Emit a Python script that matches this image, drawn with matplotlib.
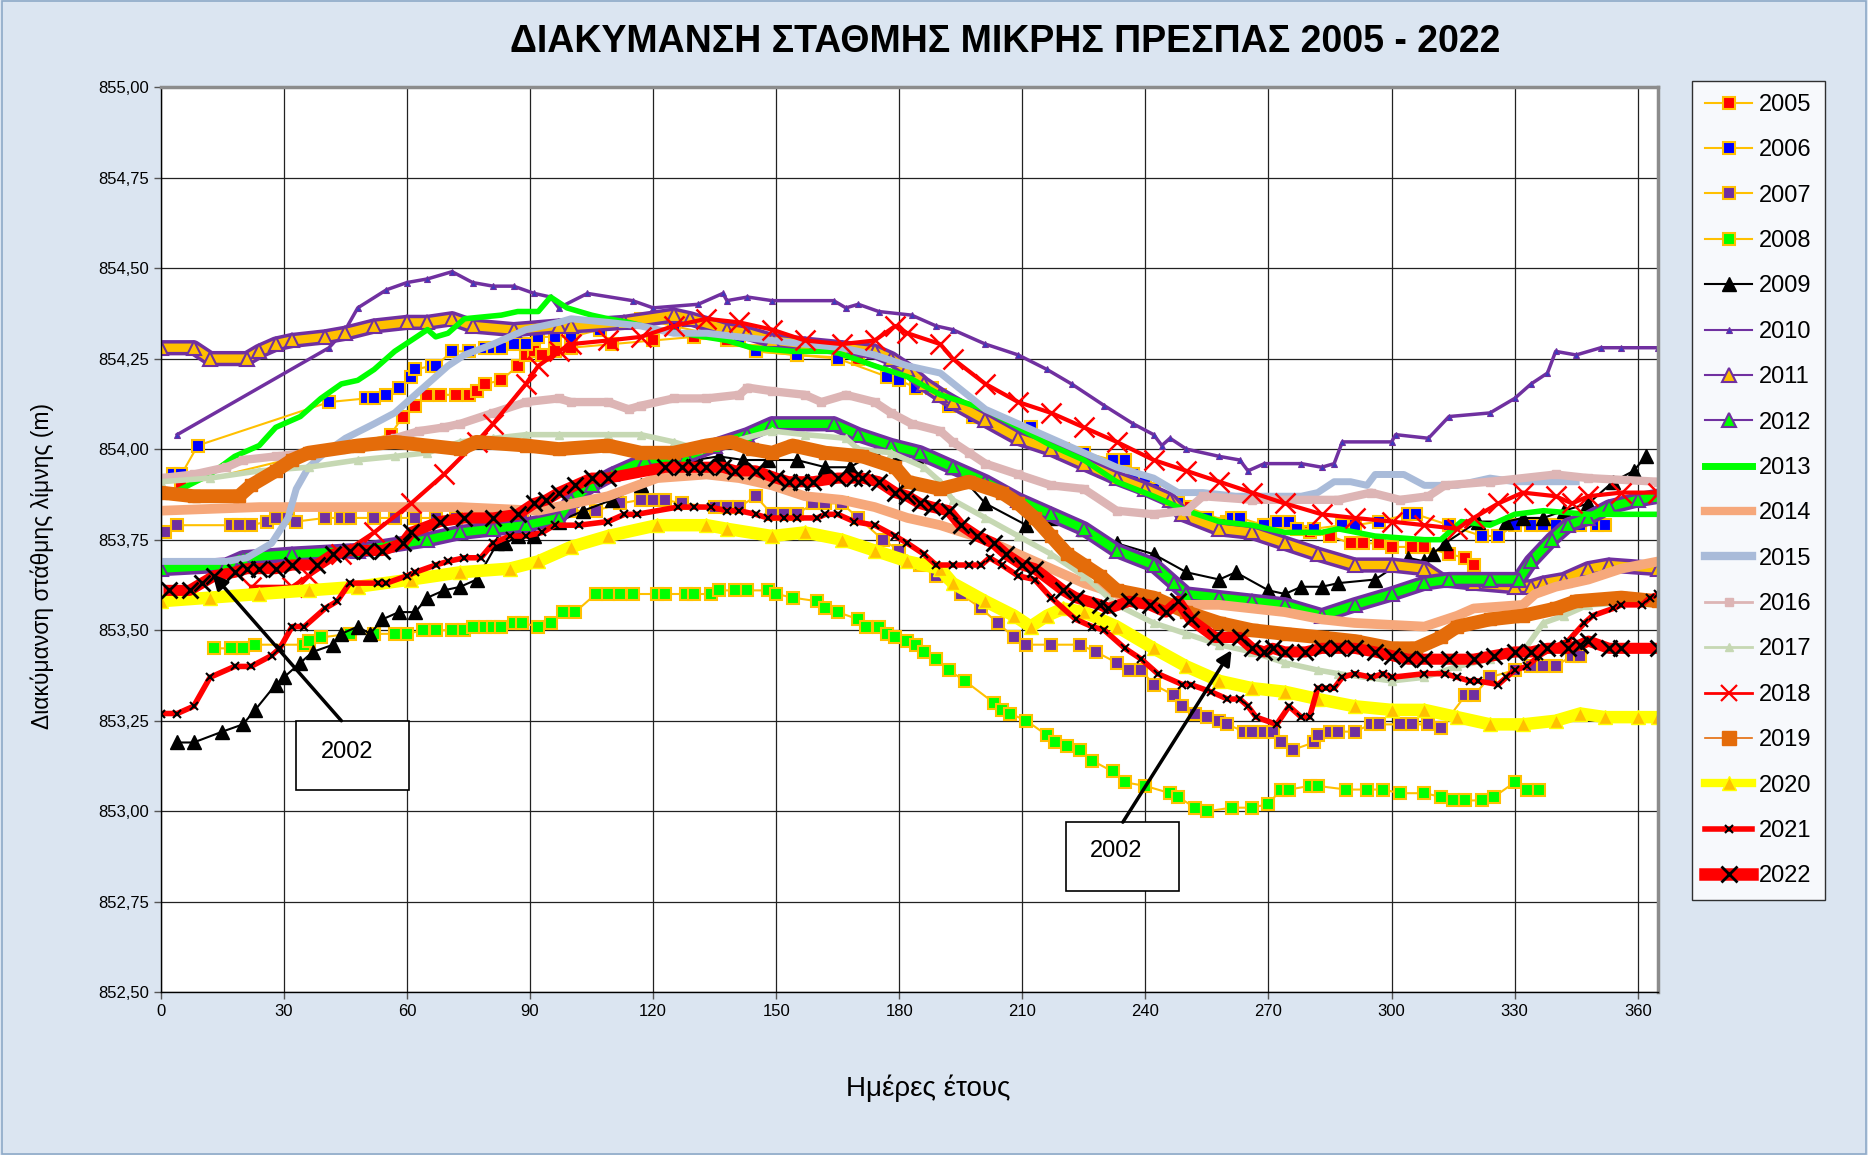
"""Lake level (Mikri Prespa) fluctuation 2005-2022, one line per year."""
import matplotlib
matplotlib.use("Agg")
import matplotlib.pyplot as plt
from matplotlib.lines import Line2D
from matplotlib.patches import Rectangle

plt.rcParams["font.family"] = ["Liberation Sans", "DejaVu Sans"]

# --- data: (day of year, level in m) ---
y2005 = [(5, 853.90), (56, 854.04), (59, 854.09), (62, 854.12), (65, 854.15), (68, 854.15), (72, 854.15),
         (75, 854.15), (77, 854.16), (79, 854.18), (83, 854.19), (87, 854.23), (89, 854.26), (91, 854.27),
         (93, 854.26), (96, 854.27), (100, 854.28), (110, 854.29), (120, 854.30), (130, 854.31), (138, 854.30),
         (145, 854.27), (155, 854.26), (170, 854.25), (180, 854.21), (190, 854.15), (200, 854.09), (210, 854.04),
         (220, 853.99), (230, 853.94), (240, 853.89), (250, 853.84), (260, 853.80), (270, 853.79), (280, 853.77),
         (285, 853.76), (290, 853.74), (293, 853.74), (297, 853.74), (300, 853.73), (305, 853.73), (308, 853.73),
         (314, 853.71), (318, 853.70), (320, 853.68)]
y2006 = [(3, 853.93), (5, 853.93), (9, 854.01), (41, 854.13), (50, 854.14), (52, 854.14), (55, 854.15),
         (58, 854.17), (61, 854.20), (62, 854.22), (66, 854.23), (67, 854.23), (71, 854.27), (75, 854.27),
         (79, 854.28), (81, 854.28), (83, 854.28), (86, 854.29), (89, 854.29), (92, 854.31), (96, 854.31),
         (100, 854.31), (107, 854.33), (114, 854.35), (117, 854.36), (125, 854.34), (133, 854.32), (141, 854.30),
         (145, 854.27), (155, 854.26), (165, 854.25), (177, 854.20), (180, 854.19), (184, 854.17), (188, 854.17),
         (192, 854.12), (198, 854.09), (205, 854.06), (209, 854.05), (212, 854.06), (220, 854.00), (225, 853.99),
         (232, 853.97), (235, 853.97), (237, 853.93), (240, 853.91), (242, 853.89), (248, 853.85), (255, 853.81),
         (261, 853.81), (263, 853.81), (269, 853.79), (272, 853.80), (275, 853.80), (277, 853.78), (281, 853.78),
         (288, 853.79), (291, 853.79), (297, 853.80), (304, 853.82), (306, 853.82), (314, 853.79), (322, 853.76),
         (326, 853.76), (330, 853.79), (334, 853.79), (337, 853.79), (340, 853.79), (346, 853.79), (350, 853.79),
         (352, 853.79)]
y2007 = [(1, 853.77), (4, 853.79), (17, 853.79), (19, 853.79), (22, 853.79), (26, 853.80), (28, 853.81),
         (31, 853.81), (33, 853.80), (40, 853.81), (44, 853.81), (46, 853.81), (52, 853.81), (57, 853.81),
         (62, 853.81), (67, 853.81), (72, 853.81), (77, 853.81), (82, 853.82), (88, 853.82), (94, 853.83),
         (100, 853.83), (106, 853.83), (112, 853.85), (117, 853.86), (120, 853.86), (123, 853.86), (127, 853.85),
         (135, 853.84), (138, 853.84), (141, 853.84), (145, 853.87), (149, 853.82), (152, 853.82), (155, 853.82),
         (159, 853.85), (162, 853.85), (166, 853.85), (170, 853.81), (176, 853.75), (180, 853.72), (185, 853.68),
         (189, 853.65), (195, 853.60), (200, 853.56), (204, 853.52), (208, 853.48), (211, 853.46), (217, 853.46),
         (224, 853.46), (228, 853.44), (233, 853.41), (236, 853.39), (239, 853.39), (242, 853.35), (247, 853.32),
         (249, 853.29), (252, 853.27), (255, 853.26), (258, 853.25), (260, 853.24), (264, 853.22), (266, 853.22),
         (269, 853.22), (271, 853.22), (273, 853.19), (276, 853.17), (281, 853.19), (282, 853.21), (285, 853.22),
         (287, 853.22), (291, 853.22), (295, 853.24), (297, 853.24), (302, 853.24), (305, 853.24), (309, 853.24),
         (312, 853.23), (318, 853.32), (320, 853.32), (324, 853.37), (330, 853.39), (334, 853.40), (337, 853.40),
         (340, 853.40), (344, 853.43), (346, 853.43)]
y2008 = [(13, 853.45), (17, 853.45), (20, 853.45), (23, 853.46), (35, 853.46), (36, 853.47), (39, 853.48),
         (46, 853.49), (52, 853.49), (57, 853.49), (60, 853.49), (64, 853.50), (67, 853.50), (71, 853.50),
         (74, 853.50), (76, 853.51), (79, 853.51), (81, 853.51), (83, 853.51), (86, 853.52), (88, 853.52),
         (92, 853.51), (95, 853.52), (98, 853.55), (101, 853.55), (106, 853.60), (109, 853.60), (112, 853.60),
         (115, 853.60), (121, 853.60), (123, 853.60), (128, 853.60), (130, 853.60), (134, 853.60), (136, 853.61),
         (140, 853.61), (143, 853.61), (148, 853.61), (150, 853.60), (154, 853.59), (160, 853.58), (162, 853.56),
         (165, 853.55), (170, 853.53), (172, 853.51), (175, 853.51), (177, 853.49), (179, 853.48), (182, 853.47),
         (184, 853.46), (186, 853.44), (189, 853.42), (192, 853.39), (196, 853.36), (203, 853.30), (205, 853.28),
         (207, 853.27), (211, 853.25), (216, 853.21), (218, 853.19), (221, 853.18), (224, 853.17), (227, 853.14),
         (232, 853.11), (235, 853.08), (240, 853.07), (246, 853.05), (248, 853.04), (252, 853.01), (255, 853.00),
         (261, 853.01), (266, 853.01), (270, 853.02), (273, 853.06), (275, 853.06), (280, 853.07), (282, 853.07),
         (289, 853.06), (294, 853.06), (298, 853.06), (302, 853.05), (308, 853.05), (312, 853.04), (315, 853.03),
         (318, 853.03), (322, 853.03), (325, 853.04), (330, 853.08), (333, 853.06), (336, 853.06)]
y2009 = [(4, 853.19), (8, 853.19), (15, 853.22), (20, 853.24), (23, 853.28), (28, 853.35), (30, 853.37),
         (34, 853.41), (37, 853.44), (42, 853.46), (44, 853.49), (48, 853.51), (51, 853.49), (54, 853.53),
         (58, 853.55), (62, 853.55), (65, 853.59), (69, 853.61), (73, 853.62), (77, 853.64), (82, 853.74),
         (84, 853.74), (87, 853.76), (91, 853.76), (97, 853.80), (103, 853.83), (110, 853.86), (117, 853.90),
         (124, 853.96), (130, 853.97), (136, 853.98), (142, 853.97), (148, 853.97), (155, 853.97), (162, 853.95),
         (168, 853.95), (174, 853.99), (180, 853.99), (185, 853.98), (193, 853.95), (201, 853.85), (211, 853.79),
         (217, 853.81), (225, 853.78), (233, 853.74), (242, 853.71), (250, 853.66), (258, 853.64), (262, 853.66),
         (270, 853.61), (274, 853.60), (278, 853.62), (283, 853.62), (287, 853.63), (296, 853.64), (304, 853.70),
         (308, 853.69), (310, 853.71), (313, 853.74), (321, 853.80), (328, 853.80), (332, 853.81), (337, 853.81),
         (342, 853.83), (348, 853.85), (354, 853.91), (359, 853.94), (362, 853.98)]
y2010 = [(4, 854.04), (41, 854.28), (45, 854.33), (48, 854.39), (55, 854.44), (60, 854.46), (65, 854.47),
         (71, 854.49), (76, 854.46), (81, 854.45), (86, 854.45), (91, 854.43), (95, 854.42), (97, 854.39),
         (104, 854.43), (115, 854.41), (120, 854.39), (131, 854.40), (137, 854.43), (138, 854.41), (143, 854.42),
         (149, 854.41), (164, 854.41), (167, 854.39), (170, 854.40), (175, 854.38), (183, 854.37), (189, 854.34),
         (193, 854.33), (201, 854.29), (209, 854.26), (216, 854.22), (222, 854.18), (230, 854.12), (237, 854.07),
         (242, 854.04), (244, 854.01), (246, 854.03), (250, 854.00), (258, 853.98), (263, 853.97), (265, 853.94),
         (269, 853.96), (278, 853.96), (283, 853.95), (286, 853.96), (288, 854.02), (300, 854.02), (301, 854.04),
         (309, 854.03), (314, 854.09), (324, 854.10), (330, 854.14), (334, 854.18), (338, 854.21), (340, 854.27),
         (345, 854.26), (351, 854.28), (356, 854.28), (365, 854.28)]
y2011 = [(0, 854.28), (8, 854.28), (12, 854.25), (21, 854.25), (24, 854.27), (28, 854.29), (32, 854.30),
         (40, 854.31), (45, 854.32), (52, 854.34), (60, 854.35), (65, 854.35), (71, 854.36), (76, 854.34),
         (86, 854.33), (97, 854.34), (100, 854.34), (113, 854.35), (125, 854.37), (129, 854.36), (138, 854.33),
         (143, 854.32), (149, 854.30), (157, 854.29), (166, 854.28), (174, 854.27), (178, 854.25), (182, 854.22),
         (186, 854.18), (190, 854.15), (193, 854.13), (201, 854.08), (209, 854.03), (217, 854.00), (225, 853.96),
         (233, 853.92), (240, 853.89), (246, 853.86), (249, 853.82), (258, 853.78), (266, 853.77), (274, 853.74),
         (282, 853.71), (291, 853.68), (300, 853.68), (308, 853.67), (312, 853.64), (320, 853.63), (330, 853.62),
         (334, 853.62), (337, 853.63), (342, 853.64), (348, 853.67), (353, 853.68), (365, 853.67)]
y2012 = [(0, 853.67), (16, 853.68), (20, 853.70), (32, 853.71), (48, 853.72), (65, 853.75), (73, 853.77),
         (81, 853.78), (89, 853.79), (97, 853.81), (100, 853.86), (105, 853.90), (110, 853.93), (118, 853.97),
         (128, 853.98), (135, 854.01), (143, 854.04), (149, 854.07), (164, 854.07), (170, 854.04), (178, 854.01),
         (185, 853.99), (193, 853.95), (201, 853.91), (209, 853.86), (217, 853.82), (225, 853.78), (233, 853.72),
         (242, 853.68), (247, 853.63), (250, 853.60), (258, 853.59), (266, 853.58), (274, 853.57), (283, 853.54),
         (291, 853.57), (300, 853.60), (308, 853.63), (314, 853.64), (324, 853.64), (331, 853.64), (334, 853.69),
         (339, 853.75), (343, 853.79), (348, 853.81), (353, 853.84), (360, 853.86), (365, 853.87)]
y2013 = [(5, 853.89), (12, 853.93), (18, 853.98), (24, 854.01), (28, 854.06), (34, 854.09), (39, 854.14),
         (44, 854.18), (48, 854.19), (52, 854.22), (57, 854.27), (61, 854.30), (65, 854.33), (67, 854.31),
         (70, 854.32), (74, 854.36), (83, 854.37), (87, 854.38), (92, 854.38), (95, 854.42), (99, 854.39),
         (105, 854.37), (109, 854.36), (114, 854.35), (121, 854.33), (127, 854.32), (138, 854.30), (144, 854.28),
         (154, 854.27), (164, 854.27), (174, 854.23), (182, 854.20), (190, 854.15), (201, 854.11), (209, 854.06),
         (217, 854.01), (225, 853.97), (233, 853.91), (242, 853.87), (250, 853.83), (258, 853.80), (266, 853.79),
         (274, 853.77), (283, 853.77), (287, 853.78), (296, 853.76), (308, 853.75), (312, 853.75), (317, 853.80),
         (324, 853.79), (330, 853.82), (337, 853.83), (348, 853.82), (365, 853.82)]
y2014 = [(0, 853.83), (24, 853.84), (48, 853.84), (73, 853.84), (92, 853.83), (109, 853.87), (121, 853.92),
         (133, 853.93), (141, 853.92), (149, 853.90), (157, 853.87), (166, 853.86), (174, 853.84), (182, 853.81),
         (190, 853.79), (201, 853.75), (209, 853.71), (217, 853.67), (225, 853.63), (233, 853.60), (242, 853.58),
         (250, 853.57), (258, 853.57), (266, 853.56), (274, 853.55), (283, 853.53), (291, 853.52), (308, 853.51),
         (316, 853.54), (320, 853.56), (332, 853.57), (335, 853.60), (340, 853.62), (348, 853.64), (356, 853.67),
         (365, 853.69)]
y2015 = [(0, 853.69), (16, 853.69), (21, 853.70), (27, 853.74), (31, 853.81), (33, 853.89), (36, 853.95),
         (40, 853.99), (45, 854.03), (52, 854.07), (57, 854.10), (60, 854.13), (65, 854.18), (70, 854.23),
         (74, 854.26), (81, 854.29), (89, 854.33), (97, 854.35), (100, 854.36), (109, 854.35), (117, 854.34),
         (125, 854.32), (133, 854.32), (141, 854.31), (149, 854.30), (157, 854.29), (166, 854.28), (174, 854.26),
         (182, 854.23), (190, 854.21), (201, 854.11), (209, 854.07), (217, 854.03), (225, 853.99), (233, 853.95),
         (242, 853.92), (248, 853.88), (254, 853.88), (262, 853.87), (270, 853.87), (278, 853.87), (282, 853.88),
         (286, 853.91), (290, 853.91), (294, 853.90), (296, 853.93), (303, 853.93), (308, 853.90), (316, 853.90),
         (324, 853.92), (330, 853.91), (340, 853.91), (345, 853.91)]
y2016 = [(0, 853.92), (8, 853.93), (16, 853.95), (20, 853.97), (28, 853.98), (36, 853.99), (44, 854.00),
         (52, 854.02), (57, 854.03), (63, 854.05), (69, 854.06), (73, 854.07), (81, 854.10), (89, 854.13),
         (97, 854.14), (100, 854.13), (109, 854.13), (114, 854.11), (117, 854.12), (125, 854.14), (133, 854.14),
         (141, 854.15), (143, 854.17), (149, 854.16), (157, 854.15), (161, 854.13), (167, 854.15), (174, 854.13),
         (178, 854.10), (183, 854.07), (190, 854.05), (193, 854.02), (197, 853.99), (201, 853.96), (209, 853.93),
         (217, 853.90), (225, 853.89), (233, 853.83), (242, 853.82), (250, 853.83), (254, 853.87), (266, 853.86),
         (274, 853.86), (287, 853.86), (295, 853.88), (302, 853.86), (309, 853.87), (313, 853.90), (324, 853.91),
         (340, 853.93), (348, 853.92), (365, 853.91)]
y2017 = [(0, 853.91), (12, 853.92), (24, 853.94), (36, 853.95), (48, 853.97), (57, 853.98), (65, 853.99),
         (73, 854.02), (81, 854.03), (89, 854.04), (97, 854.04), (109, 854.04), (117, 854.04), (125, 854.02),
         (131, 854.00), (139, 854.02), (149, 854.05), (157, 854.04), (167, 854.03), (170, 854.00), (178, 853.99),
         (186, 853.95), (190, 853.91), (193, 853.86), (201, 853.81), (209, 853.76), (217, 853.71), (225, 853.65),
         (233, 853.57), (242, 853.52), (250, 853.49), (258, 853.46), (266, 853.44), (274, 853.41), (282, 853.39),
         (287, 853.38), (300, 853.36), (308, 853.37), (316, 853.40), (324, 853.42), (332, 853.44), (337, 853.52),
         (342, 853.54), (348, 853.57), (365, 853.58)]
y2018 = [(22, 853.62), (32, 853.62), (36, 853.65), (44, 853.71), (52, 853.77), (61, 853.85), (69, 853.93),
         (77, 854.02), (81, 854.07), (89, 854.18), (92, 854.23), (97, 854.27), (100, 854.29), (109, 854.30),
         (117, 854.31), (125, 854.34), (133, 854.36), (141, 854.35), (149, 854.33), (157, 854.30), (166, 854.29),
         (174, 854.30), (179, 854.34), (182, 854.32), (190, 854.29), (193, 854.25), (201, 854.18), (209, 854.13),
         (217, 854.10), (225, 854.06), (233, 854.02), (242, 853.97), (250, 853.94), (258, 853.91), (266, 853.88),
         (274, 853.85), (283, 853.82), (291, 853.81), (300, 853.80), (308, 853.79), (316, 853.78), (320, 853.81),
         (326, 853.85), (332, 853.88), (340, 853.87), (344, 853.85), (348, 853.87), (356, 853.88), (365, 853.88)]
y2019 = [(0, 853.88), (8, 853.87), (19, 853.87), (22, 853.90), (28, 853.94), (32, 853.97), (36, 853.99),
         (48, 854.01), (57, 854.02), (65, 854.01), (73, 854.00), (77, 854.02), (89, 854.01), (97, 854.00),
         (109, 854.01), (117, 853.99), (125, 853.99), (133, 854.01), (139, 854.02), (144, 854.00), (149, 853.99),
         (154, 854.01), (162, 853.99), (171, 853.98), (179, 853.95), (182, 853.91), (190, 853.89), (197, 853.91),
         (205, 853.88), (209, 853.85), (213, 853.81), (217, 853.76), (221, 853.71), (225, 853.68), (229, 853.65),
         (233, 853.61), (242, 853.59), (250, 853.55), (258, 853.52), (266, 853.50), (274, 853.49), (283, 853.48),
         (291, 853.47), (300, 853.45), (306, 853.45), (312, 853.48), (316, 853.51), (324, 853.53), (332, 853.54),
         (340, 853.56), (345, 853.58), (356, 853.59), (365, 853.58)]
y2020 = [(0, 853.58), (12, 853.59), (24, 853.60), (36, 853.61), (48, 853.62), (61, 853.64), (73, 853.66),
         (85, 853.67), (92, 853.69), (100, 853.73), (109, 853.76), (121, 853.79), (133, 853.79), (138, 853.78),
         (149, 853.76), (157, 853.77), (166, 853.75), (174, 853.72), (182, 853.69), (190, 853.67), (193, 853.63),
         (201, 853.58), (208, 853.54), (212, 853.51), (216, 853.54), (220, 853.56), (225, 853.55), (233, 853.51),
         (242, 853.45), (250, 853.40), (258, 853.36), (266, 853.34), (274, 853.33), (282, 853.31), (291, 853.29),
         (300, 853.28), (308, 853.28), (316, 853.26), (324, 853.24), (332, 853.24), (340, 853.25), (346, 853.27),
         (352, 853.26), (360, 853.26), (365, 853.26)]
y2021 = [(0, 853.27), (4, 853.27), (8, 853.29), (12, 853.37), (18, 853.40), (22, 853.40), (27, 853.43),
         (29, 853.45), (32, 853.51), (35, 853.51), (40, 853.56), (43, 853.58), (46, 853.63), (53, 853.63),
         (55, 853.63), (60, 853.65), (62, 853.66), (67, 853.68), (70, 853.69), (74, 853.70), (78, 853.70),
         (81, 853.74), (85, 853.76), (89, 853.76), (93, 853.77), (96, 853.79), (102, 853.79), (109, 853.80),
         (113, 853.82), (116, 853.82), (126, 853.84), (130, 853.84), (134, 853.84), (138, 853.83), (141, 853.83),
         (145, 853.82), (148, 853.81), (152, 853.81), (155, 853.81), (160, 853.81), (162, 853.82), (165, 853.82),
         (169, 853.80), (174, 853.79), (179, 853.76), (182, 853.74), (186, 853.71), (189, 853.68), (193, 853.68),
         (197, 853.68), (200, 853.68), (202, 853.70), (205, 853.68), (209, 853.65), (213, 853.64), (217, 853.59),
         (223, 853.53), (227, 853.51), (230, 853.50), (235, 853.45), (239, 853.42), (243, 853.38), (249, 853.35),
         (251, 853.35), (256, 853.33), (260, 853.31), (263, 853.31), (265, 853.29), (267, 853.26), (272, 853.24),
         (275, 853.29), (278, 853.26), (280, 853.26), (282, 853.34), (284, 853.34), (286, 853.34), (288, 853.37),
         (291, 853.38), (295, 853.37), (298, 853.38), (300, 853.37), (308, 853.38), (313, 853.38), (316, 853.37),
         (319, 853.36), (321, 853.36), (326, 853.35), (328, 853.37), (330, 853.39), (333, 853.40), (336, 853.43),
         (339, 853.45), (343, 853.47), (347, 853.52), (349, 853.54), (354, 853.56), (356, 853.57), (361, 853.57),
         (363, 853.59), (365, 853.60)]
y2022 = [(2, 853.61), (7, 853.61), (10, 853.63), (13, 853.65), (18, 853.66), (21, 853.67), (24, 853.67),
         (28, 853.67), (32, 853.68), (38, 853.68), (42, 853.71), (46, 853.72), (50, 853.72), (54, 853.72),
         (59, 853.74), (61, 853.77), (68, 853.80), (74, 853.81), (81, 853.81), (87, 853.82), (91, 853.85),
         (94, 853.86), (97, 853.88), (101, 853.90), (105, 853.92), (109, 853.92), (123, 853.95), (127, 853.95),
         (130, 853.95), (133, 853.95), (137, 853.95), (140, 853.94), (145, 853.94), (150, 853.92), (153, 853.91),
         (156, 853.91), (159, 853.91), (165, 853.92), (169, 853.92), (171, 853.92), (175, 853.91), (179, 853.88),
         (182, 853.87), (185, 853.85), (188, 853.84), (192, 853.83), (195, 853.79), (199, 853.76), (203, 853.74),
         (206, 853.71), (210, 853.68), (213, 853.67), (220, 853.61), (223, 853.59), (229, 853.57), (231, 853.56),
         (236, 853.58), (241, 853.57), (245, 853.55), (248, 853.58), (251, 853.53), (257, 853.48), (263, 853.48),
         (266, 853.45), (269, 853.44), (271, 853.45), (274, 853.44), (279, 853.44), (283, 853.45), (287, 853.45),
         (291, 853.45), (296, 853.44), (300, 853.43), (304, 853.42), (308, 853.42), (314, 853.42), (320, 853.42),
         (325, 853.43), (330, 853.44), (334, 853.44), (338, 853.45), (343, 853.45), (346, 853.46), (348, 853.47),
         (353, 853.45), (356, 853.45), (365, 853.45)]

years = list(range(2005, 2023))
series = [y2005, y2006, y2007, y2008, y2009, y2010, y2011, y2012, y2013,
          y2014, y2015, y2016, y2017, y2018, y2019, y2020, y2021, y2022]

x_ticks = list(range(0, 361, 30))
y_ticks = [852.50, 852.75, 853.00, 853.25, 853.50, 853.75, 854.00, 854.25, 854.50, 854.75, 855.00]

ORANGE = "#FFC000"
PURPLE = "#7030A0"
GREEN = "#00FF00"

# how each year is drawn on the chart
plot_style = {
    2005: dict(color=ORANGE, lw=1.5, marker="s", ms=9, mfc="#FF0000", mec=ORANGE, mew=1.5),
    2006: dict(color=ORANGE, lw=1.5, marker="s", ms=9, mfc="#0000FF", mec=ORANGE, mew=1.5),
    2007: dict(color=ORANGE, lw=1.5, marker="s", ms=9, mfc=PURPLE, mec=ORANGE, mew=1.5),
    2008: dict(color=ORANGE, lw=1.5, marker="s", ms=9, mfc=GREEN, mec=ORANGE, mew=1.5),
    2009: dict(color="black", lw=1.5, marker="^", ms=10, mfc="black", mec="black"),
    2010: dict(color=PURPLE, lw=2.5, marker="^", ms=4.5, mfc="#3A3AC0", mec=PURPLE, mew=0.8),
    2011: dict(color=PURPLE, lw=0, marker="^", ms=10, mfc=ORANGE, mec=PURPLE, mew=1.5),
    2012: dict(color=PURPLE, lw=0, marker="^", ms=10, mfc=GREEN, mec=PURPLE, mew=1.5),
    2013: dict(color=GREEN, lw=4),
    2014: dict(color="#F6A87B", lw=7),
    2015: dict(color="#A9BBD9", lw=5),
    2016: dict(color="#DDB5B5", lw=6, marker="s", ms=6, mfc="#DDB5B5", mec="#DDB5B5"),
    2017: dict(color="#C6D8B3", lw=4, marker="^", ms=6, mfc="#C6D8B3", mec="#C6D8B3"),
    2018: dict(color="#FF0000", lw=3, marker="x", ms=15, mec="#FF0000", mew=1.8),
    2019: dict(color="#E46C0A", lw=10, marker="s", ms=9, mfc="#E46C0A", mec="#E46C0A"),
    2020: dict(color="#FFFF00", lw=9, marker="^", ms=10, mfc=ORANGE, mec="#FFFF00", mew=1),
    2021: dict(color="#FF0000", lw=4, marker="x", ms=6, mec="black", mew=1.5),
    2022: dict(color="#FF0000", lw=8, marker="x", ms=12, mec="black", mew=2),
}
# hatched-looking bands under the triangle markers
band_fill = {2011: ORANGE, 2012: GREEN}

# legend keys as drawn in the original legend
legend_style = dict(plot_style)
legend_style.update({
    2010: dict(color=PURPLE, lw=1.5, marker="^", ms=4.5, mfc="#3A3AC0", mec=PURPLE, mew=0.8),
    2011: dict(color=PURPLE, lw=1.5, marker="^", ms=10, mfc=ORANGE, mec=PURPLE, mew=1.5),
    2012: dict(color=PURPLE, lw=1.5, marker="^", ms=10, mfc=GREEN, mec=PURPLE, mew=1.5),
    2013: dict(color=GREEN, lw=5),
    2014: dict(color="#F6A87B", lw=6),
    2015: dict(color="#A9BBD9", lw=6),
    2016: dict(color="#DDB5B5", lw=2, marker="s", ms=6, mfc="#DDB5B5", mec="#DDB5B5"),
    2017: dict(color="#C6D8B3", lw=2, marker="^", ms=6, mfc="#C6D8B3", mec="#C6D8B3"),
    2018: dict(color="#FF0000", lw=2, marker="x", ms=12, mec="#FF0000", mew=1.6),
    2019: dict(color="#E46C0A", lw=1.2, marker="s", ms=10, mfc="#E46C0A", mec="#E46C0A"),
    2020: dict(color="#FFFF00", lw=6, marker="^", ms=10, mfc=ORANGE, mec="#FFFF00", mew=1),
    2022: dict(color="#FF0000", lw=9, marker="x", ms=12, mec="black", mew=2),
})

fig = plt.figure(figsize=(18.68, 11.55), dpi=100, facecolor="#DBE5F1")
fig.patches.append(Rectangle((0.001, 0.001), 0.998, 0.998, transform=fig.transFigure,
                             fill=False, edgecolor="#8EA9C8", lw=1.2))
ax = fig.add_axes([0.0861, 0.1408, 0.8016, 0.7839])
ax.set_facecolor("white")

for year, pts in zip(years, series):
    days = [p[0] for p in pts]
    vals = [p[1] for p in pts]
    if year in band_fill:
        ax.plot(days, vals, color=PURPLE, lw=11, solid_capstyle="butt", zorder=2)
        ax.plot(days, vals, color=band_fill[year], lw=6, solid_capstyle="butt", zorder=2)
    ax.plot(days, vals, zorder=2, **plot_style[year])

ax.set_xlim(0, 365)
ax.set_ylim(852.5, 855.0)
ax.set_xticks(x_ticks)
ax.set_yticks(y_ticks)
ax.set_yticklabels([f"{v:.2f}".replace(".", ",") for v in y_ticks])
ax.tick_params(labelsize=12, length=5, width=1, color="#555555")
ax.grid(True, color="#222222", lw=0.9)
ax.set_axisbelow(True)
for side in ("left", "bottom"):
    ax.spines[side].set_color("black")
    ax.spines[side].set_linewidth(1)
for side in ("top", "right"):
    ax.spines[side].set_color("#8C8C8C")
    ax.spines[side].set_linewidth(2.5)

# the two "2002" callouts
for (x0, y0, w, h), (tx, ty), (ax0, ay0), (ax1, ay1) in [
        ((33.0, 853.06, 27.5, 0.19), (45.5, 853.165), (44.0, 853.25), (12.6, 853.655)),
        ((220.7, 852.78, 27.6, 0.19), (232.9, 852.89), (234.5, 852.97), (261.0, 853.445))]:
    ax.add_patch(Rectangle((x0, y0), w, h, facecolor="white", edgecolor="black", lw=1.2, zorder=5))
    ax.text(tx, ty, "2002", fontsize=17, ha="center", va="center", zorder=6)
    ax.annotate("", xy=(ax1, ay1), xytext=(ax0, ay0), zorder=6,
                arrowprops=dict(arrowstyle="-|>", color="black", lw=2.5, mutation_scale=22,
                                shrinkA=0, shrinkB=0))

fig.text(0.538, 0.964, "ΔΙΑΚΥΜΑΝΣΗ ΣΤΑΘΜΗΣ ΜΙΚΡΗΣ ΠΡΕΣΠΑΣ 2005 - 2022",
         fontsize=27, fontweight="bold", ha="center", va="center")
fig.text(0.497, 0.058, "Ημέρες έτους", fontsize=20, ha="center", va="center")
fig.text(0.0225, 0.51, "Διακύμανση στάθμης λίμνης (m)", fontsize=16.5,
         rotation=90, ha="center", va="center")

handles = [Line2D([], [], **legend_style[y]) for y in years]
leg = fig.legend(handles, [str(y) for y in years], loc="upper left",
                 bbox_to_anchor=(0.9058, 0.9299), fontsize=17, frameon=True, fancybox=False,
                 handlelength=2.0, handletextpad=0.3, labelspacing=0.99, borderpad=0.55,
                 borderaxespad=0)
leg.get_frame().set_edgecolor("black")
leg.get_frame().set_linewidth(1)

fig.savefig("out.png", dpi=100, facecolor=fig.get_facecolor())
